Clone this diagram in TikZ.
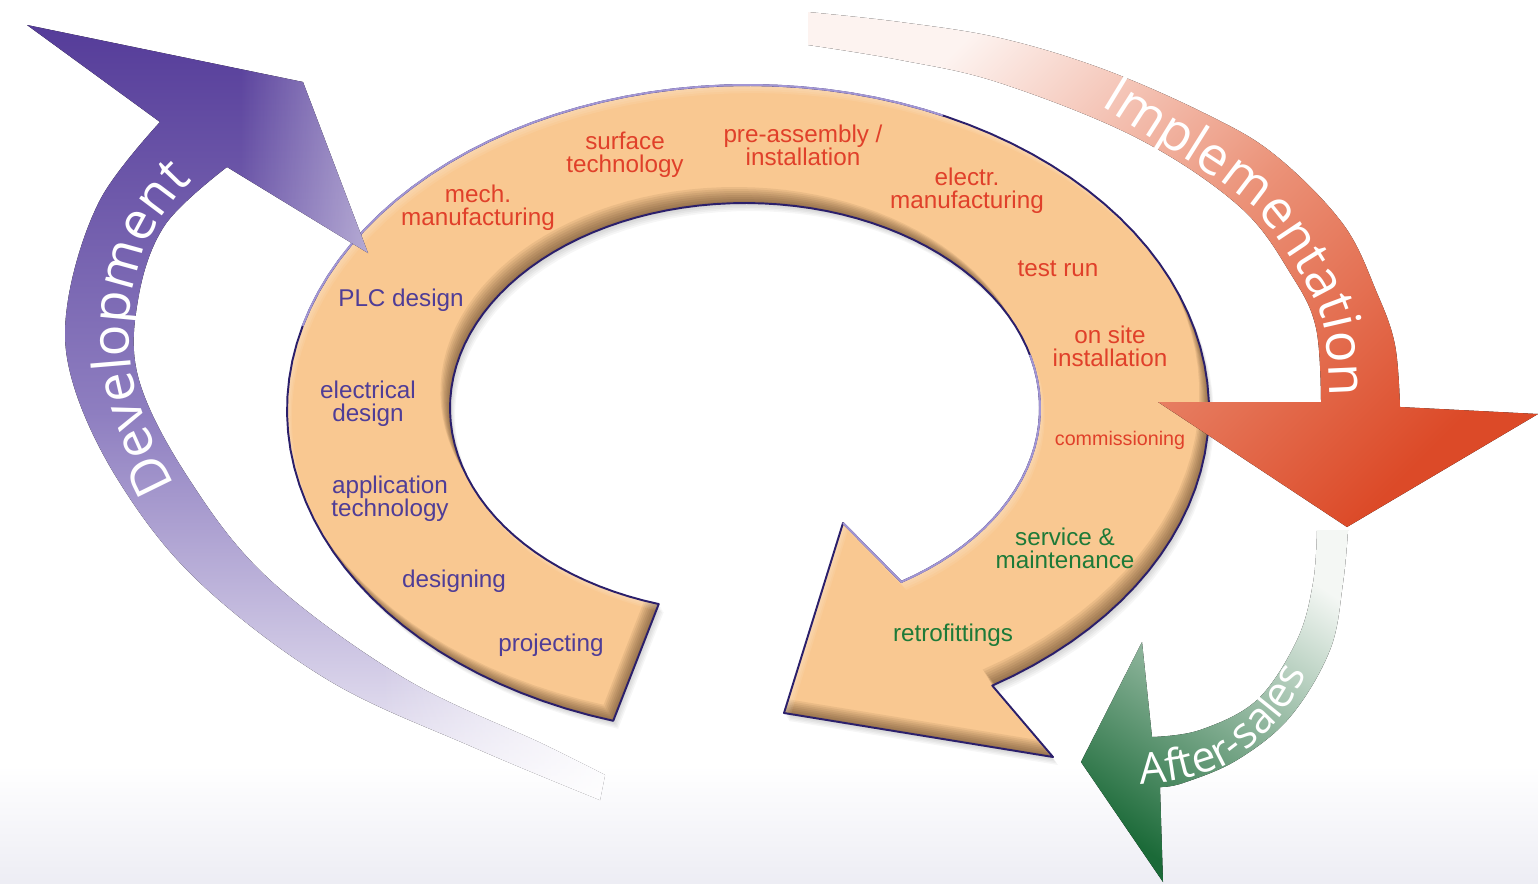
\documentclass[tikz,border=0pt]{standalone}
\usepackage{fontspec}
\setmainfont{Liberation Sans}
\newfontfamily\bandfont{Open Sans}
\usetikzlibrary{decorations.text,fadings}

\definecolor{ringfill}{HTML}{F9C891}
\definecolor{ringdark}{HTML}{2B1F6B}
\definecolor{ringlight}{HTML}{A296D4}
\definecolor{ringshade}{HTML}{3B2410}
\definecolor{devdark}{HTML}{553C99}
\definecolor{devmid}{HTML}{8E7EC0}
\definecolor{devpale}{HTML}{F6F4FA}
\definecolor{impdark}{HTML}{DC4A28}
\definecolor{impmid}{HTML}{EB9278}
\definecolor{imppale}{HTML}{FDF3F0}
\definecolor{aftdark}{HTML}{1B6A38}
\definecolor{aftpale}{HTML}{F4F7F4}
\definecolor{txtred}{HTML}{E0402A}
\definecolor{txtpurple}{HTML}{4F3D97}
\definecolor{txtgreen}{HTML}{1D7A38}
\definecolor{bgfloor}{HTML}{EDEDF4}

% the big ring arrow: outer ellipse, head, inner ellipse back to the tail
\newcommand{\ringpath}{plot[domain=107:418,samples=100] ({748+461*cos(\x)},{410+325*sin(\x)})
  -- (1053,757) -- (784,713) -- (843,523)
  -- plot[domain=418:107,samples=100] ({745+295*cos(\x)},{408+205*sin(\x)}) -- cycle}
\newcommand{\devpath}{plot[smooth,tension=0.6] coordinates {(600,800) (475,748) (328,680) (198,581) (118,480) (72,380) (68,300) (100,200) (160,122)}
  -- (27,25) -- (303,82) -- (368,253)
  -- plot[smooth,tension=0.6] coordinates {(227,167) (165,225) (138,300) (139,380) (189,479) (269,579) (404,678) (543,744) (605,775)} -- cycle}

\tikzset{
  lbl/.style={align=center, inner sep=0pt, font=\fontsize{13.8}{13}\selectfont},
  redlbl/.style={lbl, text=txtred},
  purplbl/.style={lbl, text=txtpurple},
  greenlbl/.style={lbl, text=txtgreen}
}

\begin{document}
\begin{tikzpicture}[x=0.02cm,y=-0.02cm]
\useasboundingbox (0,0) rectangle (1538,883);
\fill[white] (0,0) rectangle (1538,883);
\shade[top color=white, bottom color=bgfloor] (0,765) rectangle (1538,883);

% ring: soft drop shadow, fill, bevel
\foreach \d in {2,4,...,10}
  \fill[black, opacity=0.035, shift={(0.5*\d,0.8*\d)}] \ringpath;
\fill[ringfill] \ringpath;
\begin{scope}
  \clip \ringpath;
  \foreach \d in {2,4,...,16}
    \fill[ringshade, opacity=0.08, even odd rule, shift={(-0.6*\d,-\d)}] (-300,-300) rectangle (1900,1200) \ringpath;
  \foreach \d in {2,4,6,8}
    \fill[white, opacity=0.08, even odd rule, shift={(0.6*\d,\d)}] (-300,-300) rectangle (1900,1200) \ringpath;
\end{scope}
\draw[ringdark, line width=1.1pt, line join=round] \ringpath;
\draw[ringlight, line width=1.1pt] plot[domain=195:295,samples=60] ({748+461*cos(\x)},{410+325*sin(\x)});
\draw[ringlight, line width=1.1pt] plot[domain=345:418,samples=40] ({745+295*cos(\x)},{408+205*sin(\x)}) -- (843,523);

% Development
\fill[top color=devdark, bottom color=devpale, middle color=devmid] \devpath;
\begin{scope}
  \clip \devpath;
  \fill[white, opacity=0.5, path fading=west] (240,40) rectangle (380,260);
  \fill[white, opacity=0.9, path fading=west] (380,640) rectangle (612,810);
\end{scope}

% Implementation
\fill[top color=imppale, bottom color=impdark, middle color=impmid, shading angle=45]
  plot[smooth,tension=0.6] coordinates {(808,12) (900,22) (1000,38) (1103,69) (1206,114) (1275,155) (1343,224) (1377,293) (1395,345) (1400,407)}
  -- (1538,414) -- (1347,527) -- (1158,402)
  -- plot[smooth,tension=0.6] coordinates {(1321,402) (1316,328) (1292,276) (1240,207) (1137,138) (1000,83) (900,60) (808,45)} -- cycle;

% After-sales
\fill[top color=aftpale, bottom color=aftdark, shading angle=-34]
  plot[smooth,tension=0.6] coordinates {(1348,530) (1343,583) (1330,650) (1290,717) (1237,760) (1183,783) (1160,787)}
  -- (1163,882) -- (1081,762) -- (1142,642)
  -- plot[smooth,tension=0.6] coordinates {(1152,737) (1200,730) (1257,700) (1297,640) (1313,583) (1317,530)} -- cycle;

% phase names along the bands
\path[decorate, decoration={text along path, text color=white, text align=left,
    text={|\bandfont\fontsize{30}{30}\selectfont|Development}}]
  plot[smooth] coordinates {(175,485) (148,428) (132,375) (130,310) (142,255) (170,205) (215,160) (260,130)};
\path[decorate, decoration={text along path, text color=white, text align=left,
    text={|\bandfont\fontsize{30}{30}\selectfont|Implementation}}]
  plot[smooth] coordinates {(1100,106) (1140,131) (1246,201) (1299,271) (1324,326) (1330,405) (1331,440)};
\path[decorate, decoration={text along path, text color=white, text align=left,
    text={|\bandfont\fontsize{24.5}{24.5}\selectfont|After-sales}}]
  plot[smooth] coordinates {(1140,784) (1183,779) (1233,761) (1283,714) (1316,652) (1332,590) (1336,540)};

% steps on the ring
\foreach \name/\pos/\txt in {surf/{625,155}/{surface\\technology},
    preass/{803,145}/{pre-assembly /\\installation},
    mech/{478,208}/{mech.\\manufacturing},
    electr/{967,191}/{electr.\\manufacturing},
    testrun/{1058,269}/{test run},
    onsite/{1110,346}/{on site\\installation}}
  \node[redlbl] (\name) at (\pos) {\txt};
\node[redlbl, font=\fontsize{11.2}{12}\selectfont] (comm) at (1120,440) {commissioning};
\foreach \name/\pos/\txt in {service/{1065,548}/{service \&\\maintenance},
    retro/{953,635}/{retrofittings}}
  \node[greenlbl] (\name) at (\pos) {\txt};
\foreach \name/\pos/\txt in {plc/{401,300}/{PLC design},
    elecdes/{368,404}/{electrical\\design},
    appl/{390,499}/{application\\technology},
    desig/{454,581}/{designing},
    proj/{551,645}/{projecting}}
  \node[purplbl] (\name) at (\pos) {\txt};
\end{tikzpicture}
\end{document}
